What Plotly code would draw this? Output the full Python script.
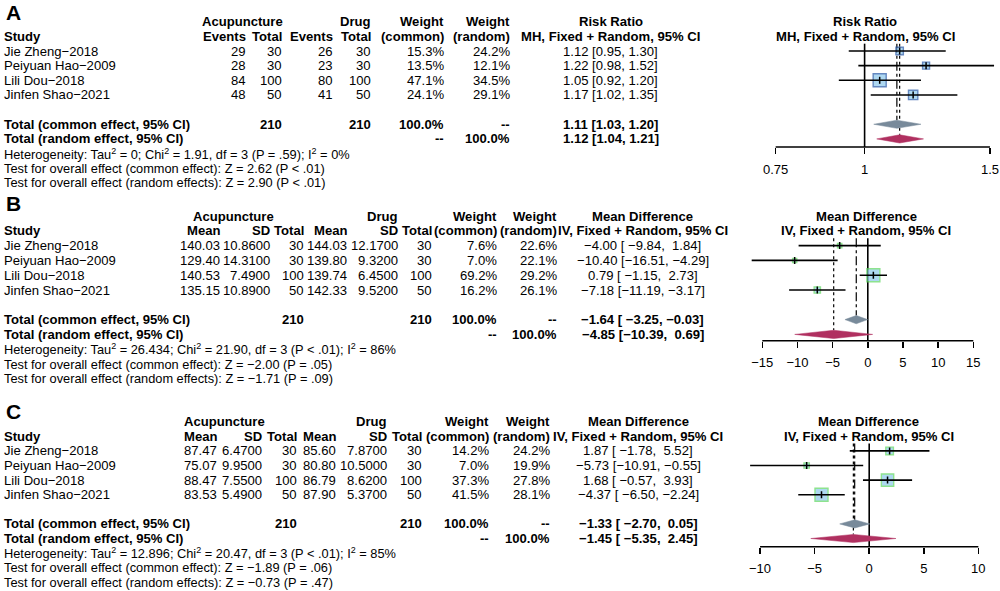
import math
import plotly.graph_objects as go

W, H = 1000, 591

# ---------------- DATA ----------------
studies = ["Jie Zheng−2018", "Peiyuan Hao−2009", "Lili Dou−2018", "Jinfen Shao−2021"]

# Panel A : Risk ratio
a_acu_events = [29, 28, 84, 48]
a_acu_total = [30, 30, 100, 50]
a_drug_events = [26, 23, 80, 41]
a_drug_total = [30, 30, 100, 50]
a_w_common = [15.3, 13.5, 47.1, 24.1]
a_w_random = [24.2, 12.1, 34.5, 29.1]
a_est = [1.12, 1.22, 1.05, 1.17]
a_lo = [0.95, 0.98, 0.92, 1.02]
a_hi = [1.30, 1.52, 1.20, 1.35]
a_common = [1.11, 1.03, 1.20]   # estimate, lower, upper
a_random = [1.12, 1.04, 1.21]
a_ticks = [0.75, 1, 1.5]
a_tick_labels = ["0.75", "1", "1.5"]
a_het = "Heterogeneity: Tau<sup>2</sup> = 0; Chi<sup>2</sup> = 1.91, df = 3 (P = .59); I<sup>2</sup> = 0%"
a_test_common = "Test for overall effect (common effect): Z = 2.62 (P &lt; .01)"
a_test_random = "Test for overall effect (random effects): Z = 2.90 (P &lt; .01)"

# Panel B : Mean difference
b_acu_mean = [140.03, 129.40, 140.53, 135.15]
b_acu_sd = [10.86, 14.31, 7.49, 10.89]
b_acu_n = [30, 30, 100, 50]
b_drug_mean = [144.03, 139.80, 139.74, 142.33]
b_drug_sd = [12.17, 9.32, 6.45, 9.52]
b_drug_n = [30, 30, 100, 50]
b_w_common = [7.6, 7.0, 69.2, 16.2]
b_w_random = [22.6, 22.1, 29.2, 26.1]
b_est = [-4.00, -10.40, 0.79, -7.18]
b_lo = [-9.84, -16.51, -1.15, -11.19]
b_hi = [1.84, -4.29, 2.73, -3.17]
b_common = [-1.64, -3.25, -0.03]
b_random = [-4.85, -10.39, 0.69]
b_ticks = [-15, -10, -5, 0, 5, 10, 15]
b_het = "Heterogeneity: Tau<sup>2</sup> = 26.434; Chi<sup>2</sup> = 21.90, df = 3 (P &lt; .01); I<sup>2</sup> = 86%"
b_test_common = "Test for overall effect (common effect): Z = −2.00 (P = .05)"
b_test_random = "Test for overall effect (random effects): Z = −1.71 (P = .09)"

# Panel C : Mean difference
c_acu_mean = [87.47, 75.07, 88.47, 83.53]
c_acu_sd = [6.47, 9.95, 7.55, 5.49]
c_acu_n = [30, 30, 100, 50]
c_drug_mean = [85.60, 80.80, 86.79, 87.90]
c_drug_sd = [7.87, 10.50, 8.62, 5.37]
c_drug_n = [30, 30, 100, 50]
c_w_common = [14.2, 7.0, 37.3, 41.5]
c_w_random = [24.2, 19.9, 27.8, 28.1]
c_est = [1.87, -5.73, 1.68, -4.37]
c_lo = [-1.78, -10.91, -0.57, -6.50]
c_hi = [5.52, -0.55, 3.93, -2.24]
c_common = [-1.33, -2.70, 0.05]
c_random = [-1.45, -5.35, 2.45]
c_ticks = [-10, -5, 0, 5, 10]
c_het = "Heterogeneity: Tau<sup>2</sup> = 12.896; Chi<sup>2</sup> = 20.47, df = 3 (P &lt; .01); I<sup>2</sup> = 85%"
c_test_common = "Test for overall effect (common effect): Z = −1.89 (P = .06)"
c_test_random = "Test for overall effect (random effects): Z = −0.73 (P = .47)"

total_weight_label = "100.0%"

# ---------------- STYLE ----------------
FONT = "Liberation Sans, Arial, Helvetica, sans-serif"
FS = 13.1
FS_SMALL = 12.8

ann = []
shapes = []
traces = []


def fix(s):
    return s.replace("-", "−")


def txt(px, py, s, anchor="left", size=FS, bold=False, yanchor="middle"):
    ann.append(dict(x=px / W, y=1 - py / H, xref="paper", yref="paper",
                    text=("<b>" + s + "</b>" if bold else s), showarrow=False,
                    xanchor=anchor, yanchor=yanchor, borderpad=0,
                    font=dict(size=size, color="black", family=FONT)))


def fmt_ci(est, lo, hi, all_lo, all_hi, pad):
    if not pad:
        return f"{est:.2f} [{lo:.2f}, {hi:.2f}]"
    wl = max(len(f"{v:.2f}") for v in all_lo)
    wh = max(len(f"{v:.2f}") for v in all_hi)
    return f"{est:.2f} [{lo:{wl}.2f}, {hi:{wh}.2f}]"


panels = [
    dict(key="A", letter_py=0, base=21.7, sp=14.65, axis_py=147, top_py=0,
         type="log", px_null=864.6, scale=711.9, null=1,
         ticks=a_ticks, tick_labels=a_tick_labels,
         cols=[a_acu_events, a_acu_total, a_drug_events, a_drug_total],
         colfmt=["{}", "{}", "{}", "{}"],
         colx=[247, 283.3, 334.3, 372.3], wx=[445, 510.7], effx=610.5,
         totcols=[1, 3],
         head1=[("Acupuncture", 242.5, "center"), ("Drug", 372.3, "right")],
         head2=["Events", "Total", "Events", "Total"],
         eff_title=["Risk Ratio", "MH, Fixed + Random, 95% CI"], forest_cx=865,
         wc=a_w_common, wr=a_w_random, est=a_est, lo=a_lo, hi=a_hi,
         common=a_common, random=a_random, pad=False,
         border="#2456A6",
         foot=[a_het, a_test_common, a_test_random]),
    dict(key="B", letter_py=191, base=216, sp=14.8, axis_py=340.7, top_py=194,
         type="linear", px_null=867.8, scale=7.033, null=0,
         ticks=b_ticks, tick_labels=[fix(str(t)) for t in b_ticks],
         cols=[b_acu_mean, b_acu_sd, b_acu_n, b_drug_mean, b_drug_sd, b_drug_n],
         colfmt=["{:.2f}", "{:.4f}", "{}", "{:.2f}", "{:.4f}", "{}"],
         colx=[220.7, 270.7, 305, 348.3, 399, 433.3], wx=[498.3, 557.7], effx=642.5,
         totcols=[2, 5],
         head1=[("Acupuncture", 233, "center"), ("Drug", 399, "right")],
         head2=["Mean", "SD", "Total", "Mean", "SD", "Total"],
         eff_title=["Mean Difference", "IV, Fixed + Random, 95% CI"], forest_cx=866,
         wc=b_w_common, wr=b_w_random, est=b_est, lo=b_lo, hi=b_hi,
         common=b_common, random=b_random, pad=True,
         border="#5FD85F",
         foot=[b_het, b_test_common, b_test_random]),
    dict(key="C", letter_py=399, base=421.7, sp=14.6, axis_py=546.7, top_py=400,
         type="linear", px_null=869.2, scale=10.915, null=0,
         ticks=c_ticks, tick_labels=[fix(str(t)) for t in c_ticks],
         cols=[c_acu_mean, c_acu_sd, c_acu_n, c_drug_mean, c_drug_sd, c_drug_n],
         colfmt=["{:.2f}", "{:.4f}", "{}", "{:.2f}", "{:.4f}", "{}"],
         colx=[218.3, 263.3, 298.3, 336.7, 387.7, 422.7], wx=[490, 551], effx=638.3,
         totcols=[2, 5],
         head1=[("Acupuncture", 224.5, "center"), ("Drug", 388.3, "right")],
         head2=["Mean", "SD", "Total", "Mean", "SD", "Total"],
         eff_title=["Mean Difference", "IV, Fixed + Random, 95% CI"], forest_cx=868.5,
         wc=c_w_common, wr=c_w_random, est=c_est, lo=c_lo, hi=c_hi,
         common=c_common, random=c_random, pad=True,
         border="#5FD85F",
         foot=[c_het, c_test_common, c_test_random]),
]

layout_axes = {}
X0_PX, X1_PX = 745, 1000
DIAM_H = 0.28
SQ_MAX = 13

for k, p in enumerate(panels):
    n = k + 1
    xa = "x" if n == 1 else f"x{n}"
    ya = "y" if n == 1 else f"y{n}"
    row = lambda i, p=p: p["base"] + i * p["sp"]

    # ---- panel letter
    txt(5, p["letter_py"], p["key"], size=21, bold=True, yanchor="top")

    # ---- headers
    for label, x, anc in p["head1"]:
        txt(x, row(0), label, anchor=anc, bold=True)
    txt(p["wx"][0], row(0), "Weight", anchor="right", bold=True)
    txt(p["wx"][1], row(0), "Weight", anchor="right", bold=True)
    txt(p["effx"], row(0), p["eff_title"][0], anchor="center", bold=True)
    txt(3, row(1), "Study", bold=True)
    for label, x in zip(p["head2"], p["colx"]):
        txt(x, row(1), label, anchor="right", bold=True)
    txt(p["wx"][0], row(1), "(common)", anchor="right", bold=True)
    txt(p["wx"][1], row(1), "(random)", anchor="right", bold=True)
    txt(p["effx"], row(1), p["eff_title"][1], anchor="center", bold=True)

    # forest titles
    txt(p["forest_cx"], row(0), p["eff_title"][0], anchor="center", bold=True)
    txt(p["forest_cx"], row(1), p["eff_title"][1], anchor="center", bold=True)

    all_lo = p["lo"] + [p["common"][1], p["random"][1]]
    all_hi = p["hi"] + [p["common"][2], p["random"][2]]

    # ---- study rows
    for j, name in enumerate(studies):
        r = row(2 + j)
        txt(3, r, name)
        for col, f, x in zip(p["cols"], p["colfmt"], p["colx"]):
            txt(x, r, fix(f.format(col[j])), anchor="right")
        txt(p["wx"][0], r, f"{p['wc'][j]:.1f}%", anchor="right")
        txt(p["wx"][1], r, f"{p['wr'][j]:.1f}%", anchor="right")
        txt(p["effx"], r, fix(fmt_ci(p["est"][j], p["lo"][j], p["hi"][j], all_lo, all_hi, p["pad"])),
            anchor="center")

    # ---- totals
    rc, rr = row(7), row(8)
    txt(3, rc, "Total (common effect, 95% CI)", bold=True)
    txt(3, rr, "Total (random effect, 95% CI)", bold=True)
    for ci in p["totcols"]:
        txt(p["colx"][ci], rc, str(sum(p["cols"][ci])), anchor="right", bold=True)
    txt(p["wx"][0], rc, total_weight_label, anchor="right", bold=True)
    txt(p["wx"][1], rc, "--", anchor="right", bold=True)
    txt(p["wx"][0], rr, "--", anchor="right", bold=True)
    txt(p["wx"][1], rr, total_weight_label, anchor="right", bold=True)
    txt(p["effx"], rc, fix(fmt_ci(*p["common"], all_lo, all_hi, p["pad"])), anchor="center", bold=True)
    txt(p["effx"], rr, fix(fmt_ci(*p["random"], all_lo, all_hi, p["pad"])), anchor="center", bold=True)

    # ---- footers
    for i, s in enumerate(p["foot"]):
        txt(3, row(9 + i), s, size=FS_SMALL)

    # ---- forest axes
    xr = [(X0_PX - p["px_null"]) / p["scale"], (X1_PX - p["px_null"]) / p["scale"]]
    if p["type"] == "linear":
        xr = [p["null"] + v for v in xr]
    y_bottom = (p["axis_py"] - p["base"]) / p["sp"]
    y_top = (p["top_py"] - p["base"]) / p["sp"]
    layout_axes["xaxis" if n == 1 else f"xaxis{n}"] = dict(
        domain=[X0_PX / W, X1_PX / W], range=xr, type=p["type"], anchor=ya,
        showgrid=False, zeroline=False, showline=False, ticks="outside",
        ticklen=6, tickwidth=1.5, tickcolor="black",
        tickmode="array", tickvals=p["ticks"], ticktext=p["tick_labels"],
        tickfont=dict(size=13, color="black", family=FONT), ticklabelstandoff=4,
        fixedrange=True)
    layout_axes["yaxis" if n == 1 else f"yaxis{n}"] = dict(
        domain=[1 - p["axis_py"] / H, 1 - p["top_py"] / H], range=[y_bottom, y_top],
        visible=False, anchor=xa, fixedrange=True)

    # axis base line spanning tick range
    shapes.append(dict(type="line", xref=xa, yref=f"{ya} domain",
                       x0=min(p["ticks"]), x1=max(p["ticks"]), y0=0, y1=0,
                       line=dict(color="black", width=1.5)))

    ys = [2 + j for j in range(len(studies))]
    # reference (null) line
    traces.append(go.Scatter(x=[p["null"], p["null"]], y=[1.5, y_bottom], mode="lines",
                             line=dict(color="black", width=1.6), xaxis=xa, yaxis=ya,
                             hoverinfo="skip"))
    # common / random lines
    traces.append(go.Scatter(x=[p["common"][0]] * 2, y=[1.5, 7 - DIAM_H], mode="lines",
                             line=dict(color="black", width=1.2, dash="dashdot"),
                             xaxis=xa, yaxis=ya, hoverinfo="skip"))
    traces.append(go.Scatter(x=[p["random"][0]] * 2, y=[1.5, 8 - DIAM_H], mode="lines",
                             line=dict(color="black", width=1.2, dash="dot"),
                             xaxis=xa, yaxis=ya, hoverinfo="skip"))
    # squares
    wmax = max(p["wc"])
    sizes = [SQ_MAX * math.sqrt(w / wmax) for w in p["wc"]]
    traces.append(go.Scatter(x=p["est"], y=ys, mode="markers",
                             marker=dict(symbol="square", size=sizes, color="#8CC8EC",
                                         line=dict(color=p["border"], width=1.4)),
                             xaxis=xa, yaxis=ya, hoverinfo="skip"))
    # CI lines
    cx, cy = [], []
    for lo, hi, y in zip(p["lo"], p["hi"], ys):
        cx += [lo, hi, None]
        cy += [y, y, None]
    traces.append(go.Scatter(x=cx, y=cy, mode="lines", line=dict(color="black", width=1.6),
                             xaxis=xa, yaxis=ya, hoverinfo="skip"))
    # estimate ticks
    traces.append(go.Scatter(x=p["est"], y=ys, mode="markers",
                             marker=dict(symbol="line-ns", size=5,
                                         line=dict(color="black", width=1.5)),
                             xaxis=xa, yaxis=ya, hoverinfo="skip"))
    # diamonds
    for (est, lo, hi), y, col in [(p["common"], 7, "#788A9A"), (p["random"], 8, "#B03060")]:
        traces.append(go.Scatter(x=[lo, est, hi, est, lo], y=[y, y - DIAM_H, y, y + DIAM_H, y],
                                 mode="lines", fill="toself", fillcolor=col,
                                 line=dict(color=col, width=0.5),
                                 xaxis=xa, yaxis=ya, hoverinfo="skip"))

fig = go.Figure(data=traces)
fig.update_layout(width=W, height=H, margin=dict(l=0, r=0, t=0, b=0),
                  paper_bgcolor="white", plot_bgcolor="white", showlegend=False,
                  annotations=ann, shapes=shapes, **layout_axes)
fig.write_html("out.html", config={"displayModeBar": False, "staticPlot": True},
               post_script="document.body.style.margin='0px';document.body.style.overflow='hidden';")
